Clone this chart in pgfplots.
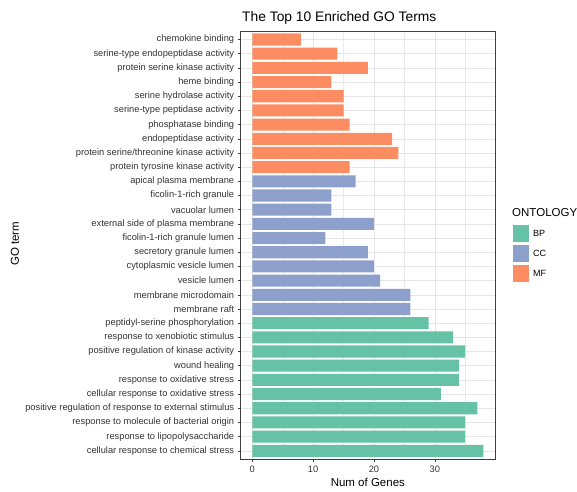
\documentclass[border=0pt]{standalone}
\usepackage{fontspec}
\setmainfont{Liberation Sans}
\usepackage{pgfplots}
\pgfplotsset{compat=1.18}
\definecolor{bp}{HTML}{66C2A5}
\definecolor{cc}{HTML}{8DA0CB}
\definecolor{mf}{HTML}{FC8D62}
\begin{document}
\begin{tikzpicture}
\useasboundingbox (-240.7pt,-31.7pt) rectangle (336.3pt,459.3pt);
\begin{axis}[
 scale only axis, width=254.3pt, height=428.3pt,
 clip=false,
 xbar, bar shift=0pt, bar width=0.85,
 xmin=-1.9, xmax=39.9, ymin=0.4, ymax=30.6,
 xtick={0,10,20,30}, minor xtick={5,15,25,35},
 ytick={1,...,30},
 yticklabels={cellular response to chemical stress,response to lipopolysaccharide,response to molecule of bacterial origin,positive regulation of response to external stimulus,cellular response to oxidative stress,response to oxidative stress,wound healing,positive regulation of kinase activity,response to xenobiotic stimulus,peptidyl-serine phosphorylation,membrane raft,membrane microdomain,vesicle lumen,cytoplasmic vesicle lumen,secretory granule lumen,ficolin-1-rich granule lumen,external side of plasma membrane,vacuolar lumen,ficolin-1-rich granule,apical plasma membrane,protein tyrosine kinase activity,protein serine/threonine kinase activity,endopeptidase activity,phosphatase binding,serine-type peptidase activity,serine hydrolase activity,heme binding,protein serine kinase activity,serine-type endopeptidase activity,chemokine binding},
 grid=both, major grid style={black!10, line width=0.5pt}, minor grid style={black!8, line width=0.3pt},
 axis line style={black!75, line width=0.6pt},
 tick align=outside, tick pos=left, major tick length=3pt, minor tick length=0pt,
 tick style={black!75, line width=0.5pt},
 ticklabel style={font=\fontsize{9.3}{10}\selectfont, text=black!80},
 /pgf/number format/assume math mode=true,
 xlabel={Num of Genes}, ylabel={GO term},
 label style={font=\fontsize{11.5}{13}\selectfont},
 xlabel style={at={(axis description cs:0.5,0)}, anchor=base, yshift=-27.4pt},
 ylabel style={at={(axis description cs:-0.8875,0.503)}, anchor=center},
 title={The Top 10 Enriched GO Terms},
 title style={font=\fontsize{13.8}{15}\selectfont, at={(axis description cs:0,1)}, anchor=base west, yshift=3pt, xshift=-2pt},
 legend style={at={(1.07,0.547)}, anchor=north west, draw=none, fill=none, inner sep=0pt,
   font=\fontsize{9}{10}\selectfont, row sep=3pt, column sep=2pt},
 legend cell align=left,
 legend image code/.code={\fill[#1] (0pt,-8.5pt) rectangle (16pt,8.5pt);},
]
\addplot[fill=bp, draw=none] coordinates {(38,1) (35,2) (35,3) (37,4) (31,5) (34,6) (34,7) (35,8) (33,9) (29,10)};
\addlegendentry{BP}
\addplot[fill=cc, draw=none] coordinates {(26,11) (26,12) (21,13) (20,14) (19,15) (12,16) (20,17) (13,18) (13,19) (17,20)};
\addlegendentry{CC}
\addplot[fill=mf, draw=none] coordinates {(16,21) (24,22) (23,23) (16,24) (15,25) (15,26) (13,27) (19,28) (14,29) (8,30)};
\addlegendentry{MF}
\node[anchor=base west, font=\fontsize{11.5}{13}\selectfont, inner sep=0pt] at (rel axis cs:1.067,0.566) {ONTOLOGY};
\end{axis}
\end{tikzpicture}
\end{document}
